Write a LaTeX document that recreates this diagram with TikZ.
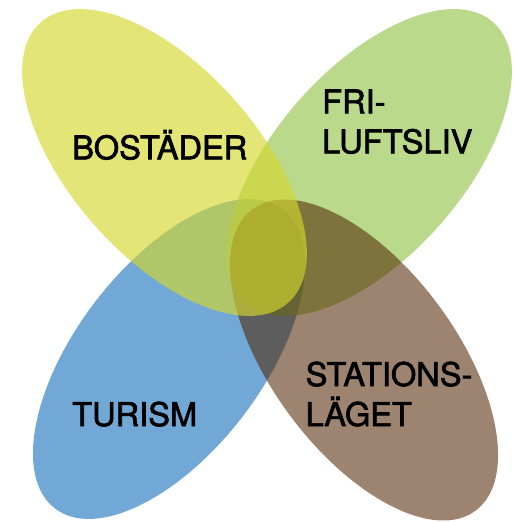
\documentclass[tikz,border=0pt]{standalone}
\usepackage{fontspec}
\setmainfont[FakeBold=2]{TeX Gyre Heros}

\definecolor{turismblue}{RGB}{114,168,213}
\definecolor{friluftgreen}{RGB}{140,192,60}
\definecolor{stationbrown}{RGB}{80,35,0}
\definecolor{bostadyellow}{RGB}{212,215,46}

\begin{document}
\begin{tikzpicture}[
  x=1pt, y=-1pt,
  petal/.style={fill=#1},
  areatext/.style={anchor=base west, inner sep=0pt, align=left, font=\fontsize{32.6}{40}\selectfont}
]
  \useasboundingbox (0,0) rectangle (519,522);

  % the four areas, bottom layer first
  \fill[petal=turismblue, shift={(169,359)}, rotate=52.7] (0,0) ellipse [x radius=188, y radius=93.4];
  \fill[petal=friluftgreen, fill opacity=0.6, shift={(369.5,162.5)}, rotate=48.6] (0,0) ellipse [x radius=187, y radius=94];
  \fill[petal=stationbrown, fill opacity=0.56, shift={(364,360)}, rotate=-53.5] (0,0) ellipse [x radius=187.5, y radius=92.5];
  \fill[petal=bostadyellow, fill opacity=0.65, shift={(164.5,162.5)}, rotate=-48.6] (0,0) ellipse [x radius=187, y radius=94];

  % labels, placed by the baseline of their last line
  \node[areatext] (bostader) at (72,159.3) {BOSTÄDER};
  \node[areatext] (friluftsliv) at (322,153.3) {FRI-\\LUFTSLIV};
  \node[areatext] (turism) at (72,426) {TURISM};
  \node[areatext] (stationslaget) at (305.5,426) {STATIONS-\\LÄGET};
\end{tikzpicture}
\end{document}
